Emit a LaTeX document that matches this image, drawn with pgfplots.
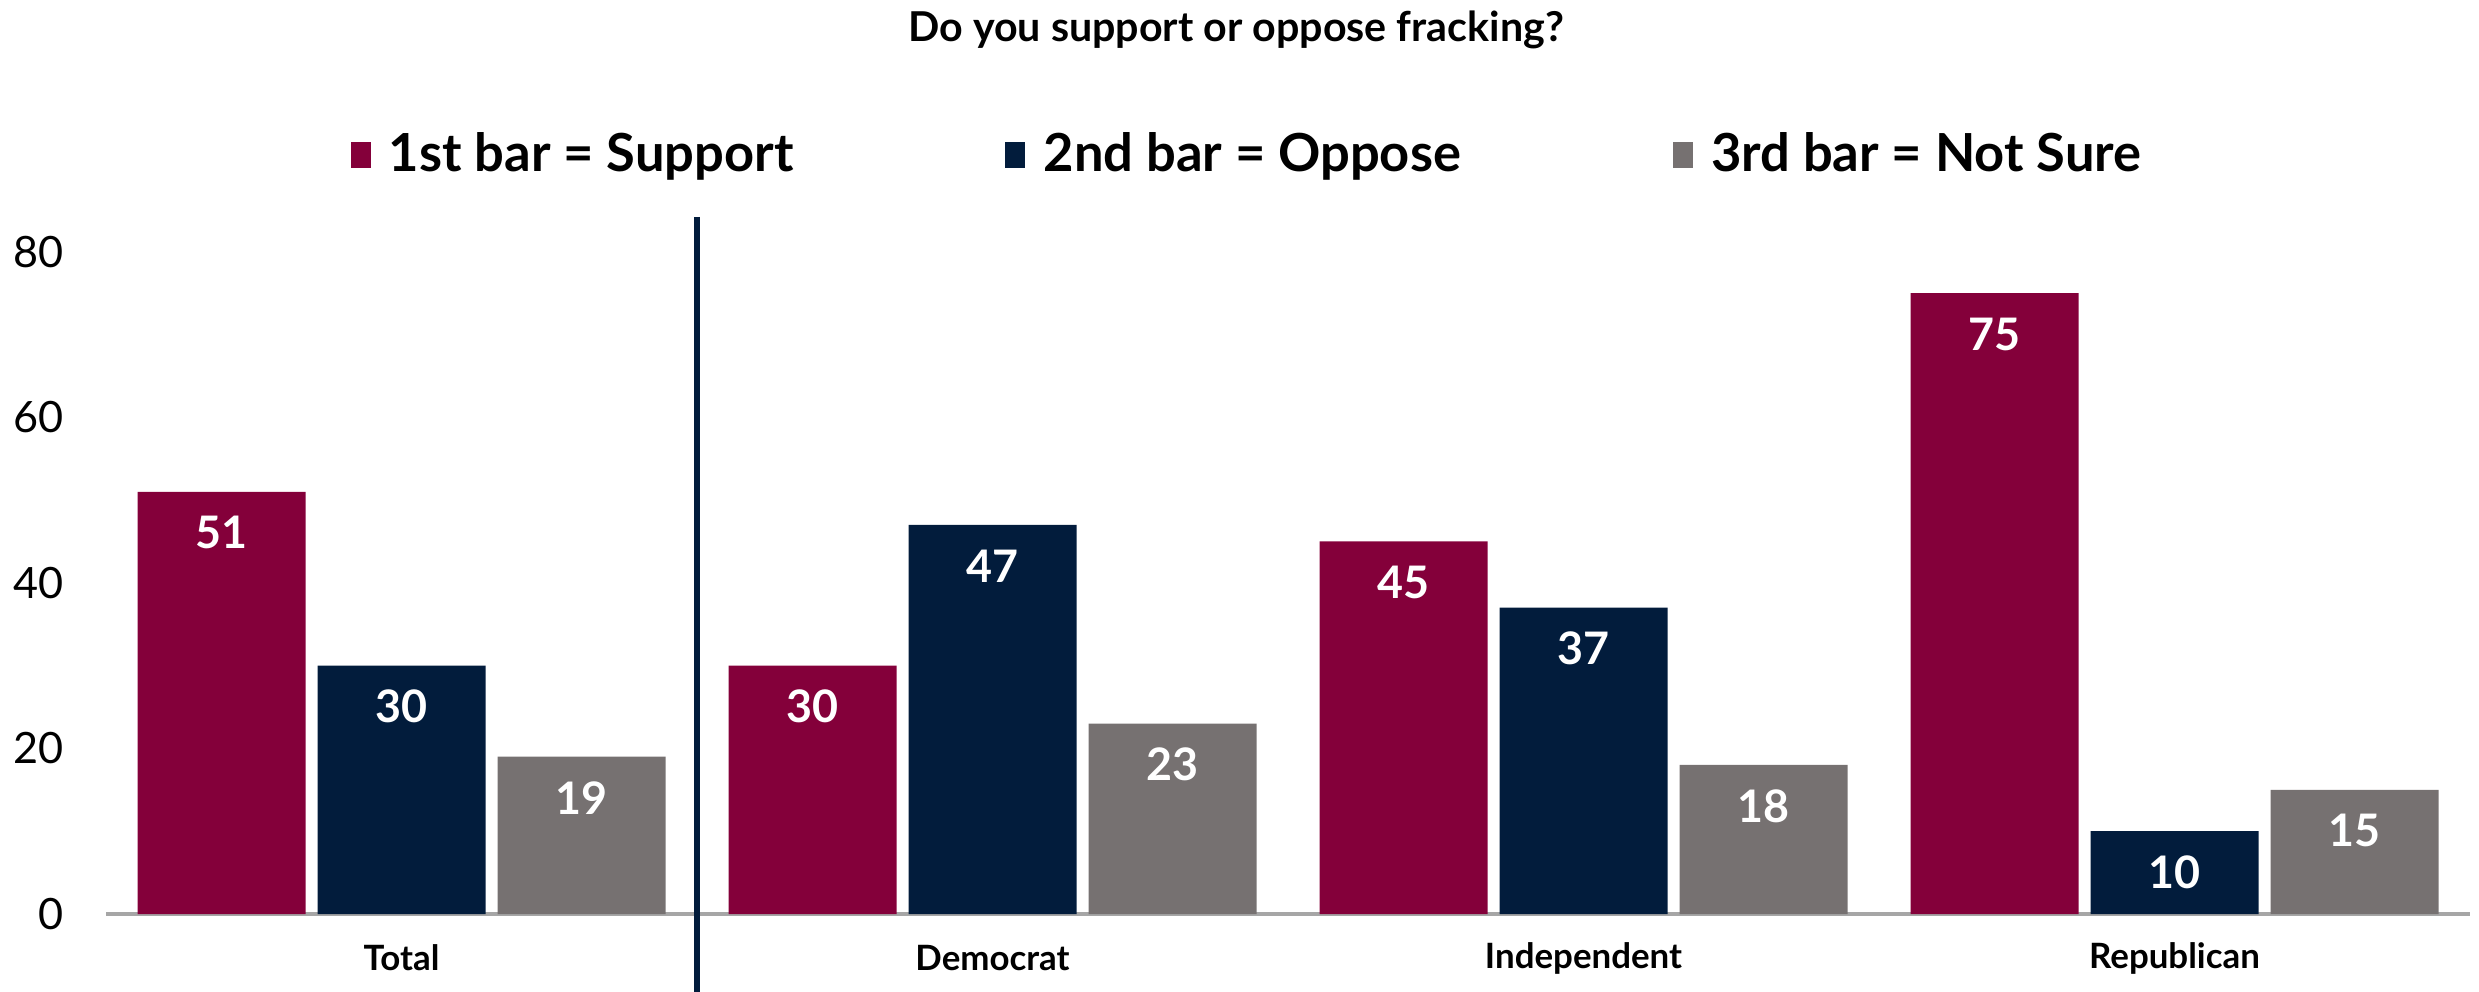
\documentclass[border=0pt]{standalone}
\usepackage{pgfplots}
\pgfplotsset{compat=1.18}
\usepackage{fontspec}
\setmainfont{Lato}
\definecolor{cred}{RGB}{132,0,58}
\definecolor{cnavy}{RGB}{2,28,60}
\definecolor{cgray}{RGB}{118,113,113}
\definecolor{caxis}{RGB}{166,166,166}
\begin{document}
\begin{tikzpicture}
\useasboundingbox (-31.8bp,-23.4bp) rectangle (711.9bp,274.2bp);
\begin{axis}[
  at={(0,0)}, anchor=south west, scale only axis,
  width=709.2bp, height=209.1bp,
  xmin=-0.5, xmax=3.5, ymin=0, ymax=84.2,
  enlargelimits=false, clip=false,
  ybar=3.6bp, bar width=50.4bp,
  axis x line*=bottom, axis y line*=left,
  y axis line style={draw=none},
  x axis line style={draw=caxis, line width=1bp},
  xtick={0,1,2,3},
  xticklabels={Total,Democrat,Independent,Republican},
  x tick style={draw=none},
  extra x ticks={-0.5,0.5,1.5,2.5,3.5},
  extra x tick labels={},
  extra x tick style={tick align=outside, major tick length=3bp, tick style={draw=caxis, line width=0.6bp}},
  ytick={0,20,40,60,80},
  y tick style={draw=none},
  /pgf/number format/assume math mode=true,
  xticklabel style={font=\fontsize{10.5}{12}\selectfont\bfseries, anchor=center, yshift=-9bp},
  yticklabel style={font=\fontsize{13}{15}\selectfont, anchor=east, inner sep=0pt, xshift=-12.6bp},
  nodes near coords,
  nodes near coords style={text=white, font=\fontsize{13.5}{15}\selectfont\bfseries, anchor=center, yshift=-12.3bp},
  legend columns=3,
  legend style={at={(axis description cs:0.4861,1.089)}, anchor=center, draw=none, fill=none,
    font=\fontsize{15.8}{18}\selectfont\bfseries,
    /tikz/every even column/.append style={column sep=58.1bp},
    nodes={inner xsep=5.5bp}},
  legend image code/.code={\fill[#1] (0bp,-3.9bp) rectangle (6bp,3.9bp);},
]
\addplot[fill=cred, draw=none] coordinates {(0,51) (1,30) (2,45) (3,75)};
\addlegendentry{1st bar = Support}
\addplot[fill=cnavy, draw=none] coordinates {(0,30) (1,47) (2,37) (3,10)};
\addlegendentry{2nd bar = Oppose}
\addplot[fill=cgray, draw=none] coordinates {(0,19) (1,23) (2,18) (3,15)};
\addlegendentry{3rd bar = Not Sure}
\draw[cnavy, line width=2bp] (axis cs:0.5,84.2) -- (axis cs:0.5,-10);
\end{axis}
\node[font=\fontsize{12.4}{14}\selectfont\bfseries] at (339bp,265.2bp) {Do you support or oppose fracking?};
\end{tikzpicture}
\end{document}
